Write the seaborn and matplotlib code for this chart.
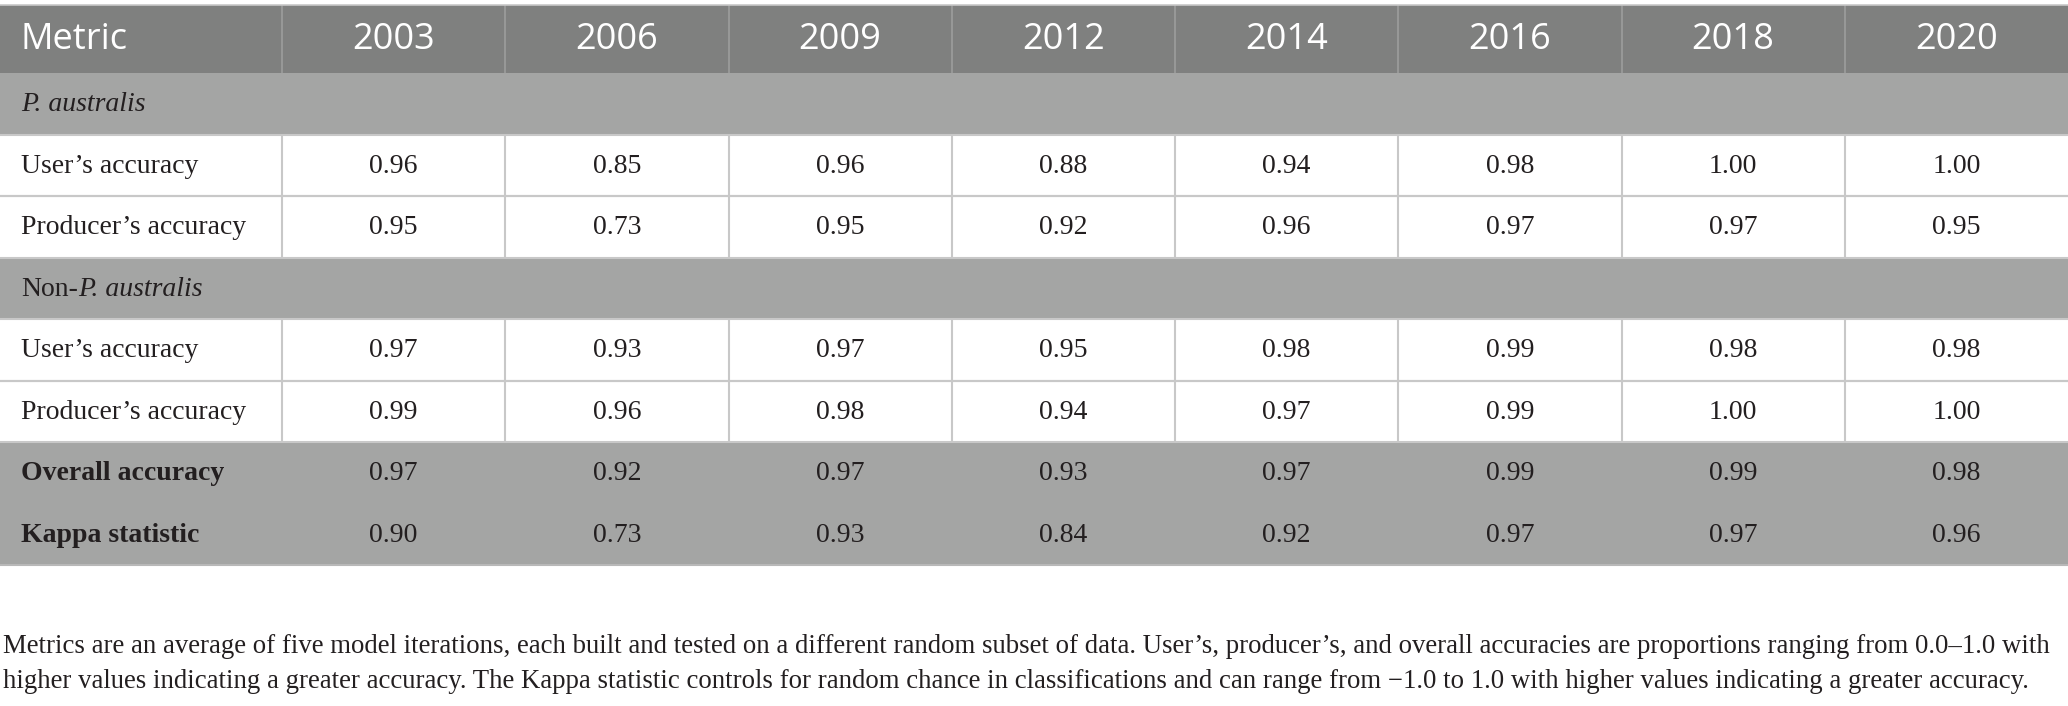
import matplotlib
matplotlib.use("Agg")
import matplotlib.pyplot as plt
import seaborn as sns

# table content
header = ["Metric", "2003", "2006", "2009", "2012", "2014", "2016", "2018", "2020"]
# (upright prefix, italic part) for each row label
row_labels = [
    ("", "P. australis"),
    ("User\u2019s accuracy", ""),
    ("Producer\u2019s accuracy", ""),
    ("Non-", "P. australis"),
    ("User\u2019s accuracy", ""),
    ("Producer\u2019s accuracy", ""),
    ("Overall accuracy", ""),
    ("Kappa statistic", ""),
]
row_kinds = ["section", "body", "body", "section", "body", "body", "summary", "summary"]

pa_users = [0.96, 0.85, 0.96, 0.88, 0.94, 0.98, 1.00, 1.00]
pa_producers = [0.95, 0.73, 0.95, 0.92, 0.96, 0.97, 0.97, 0.95]
non_users = [0.97, 0.93, 0.97, 0.95, 0.98, 0.99, 0.98, 0.98]
non_producers = [0.99, 0.96, 0.98, 0.94, 0.97, 0.99, 1.00, 1.00]
overall = [0.97, 0.92, 0.97, 0.93, 0.97, 0.99, 0.99, 0.98]
kappa = [0.90, 0.73, 0.93, 0.84, 0.92, 0.97, 0.97, 0.96]
row_values = [None, pa_users, pa_producers, None, non_users, non_producers, overall, kappa]

footnote = [
    "Metrics are an average of five model iterations, each built and tested on a different random subset of data. "
    "User\u2019s, producer\u2019s, and overall accuracies are proportions ranging from 0.0\u20131.0 with",
    "higher values indicating a greater accuracy. The Kappa statistic controls for random chance in classifications "
    "and can range from \u22121.0 to 1.0 with higher values indicating a greater accuracy.",
]

sns.set_theme(style="white")

W, H = 2068, 706
fig = plt.figure(figsize=(W / 100, H / 100), dpi=100)
ax = fig.add_axes([0, 0, 1, 1])
ax.set_xlim(0, W)
ax.set_ylim(H, 0)
ax.axis("off")
fig.canvas.draw()
renderer = fig.canvas.get_renderer()

# layout (pixel units)
first_w = 282
col_w = (W - first_w) / 8
lefts = [0] + [first_w + i * col_w for i in range(8)]
widths = [first_w] + [col_w] * 8
top, head_h, row_h = 5, 68, 61.5
body_fs = 20
serif = "Liberation Serif"

dark = "#7f807f"
light = "#a4a5a4"
text_c = "#231f20"
bg = {"section": light, "body": "white", "summary": light}

# header
ax.barh([top + head_h / 2] * 9, widths, left=lefts, height=head_h, color=dark,
        edgecolor="none")
for i in range(1, 9):
    ax.vlines(lefts[i], top, top + head_h, color="#9c9d9c", lw=1.2)
ax.hlines(top, 0, W, color="#c8c8c8", lw=1.2)
for i, h in enumerate(header):
    if i == 0:
        ax.text(20, top + head_h / 2 + 1, h, color="white", fontsize=26,
                family="Open Sans", va="center", ha="left")
    else:
        ax.text(lefts[i] + col_w / 2, top + head_h / 2 + 1, h, color="white",
                fontsize=26, family="Open Sans", va="center", ha="center")

# body rows
for r, ((plain, ital), kind, vals) in enumerate(zip(row_labels, row_kinds, row_values)):
    y0 = top + head_h + r * row_h
    yc = y0 + row_h / 2
    ax.barh([yc] * 9, widths, left=lefts, height=row_h, color=bg[kind],
            edgecolor="none")
    weight = "bold" if kind == "summary" else "normal"
    x = 21
    if plain:
        t = ax.text(x, yc + 1, plain, color=text_c, fontsize=body_fs, family=serif,
                    fontweight=weight, va="center", ha="left")
        x += t.get_window_extent(renderer).width
    if ital:
        ax.text(x, yc + 1, ital, color=text_c, fontsize=body_fs, family=serif,
                style="italic", va="center", ha="left")
    if kind == "body":
        for i in range(1, 9):
            ax.vlines(lefts[i], y0, y0 + row_h, color="#c8c8c8", lw=1.5)
        ax.hlines([y0, y0 + row_h], 0, W, color="#c8c8c8", lw=1.5)
    if vals is not None:
        for i, v in enumerate(vals):
            ax.text(lefts[i + 1] + col_w / 2, yc + 1, f"{v:.2f}", color=text_c,
                    fontsize=body_fs, family=serif, va="center", ha="center")

table_bottom = top + head_h + len(row_labels) * row_h
ax.hlines(table_bottom, 0, W, color="#b8b8b8", lw=1.5)

# footnote, fitted to the reference line width
t = ax.text(3, 653, footnote[0], color=text_c, fontsize=18, family=serif,
            va="baseline", ha="left")
w = t.get_window_extent(renderer).width
size = 18 * 2048 / w
t.set_fontsize(size)
ax.text(3, 688, footnote[1], color=text_c, fontsize=size, family=serif,
        va="baseline", ha="left")

fig.savefig("out.png", dpi=100, facecolor="white")
